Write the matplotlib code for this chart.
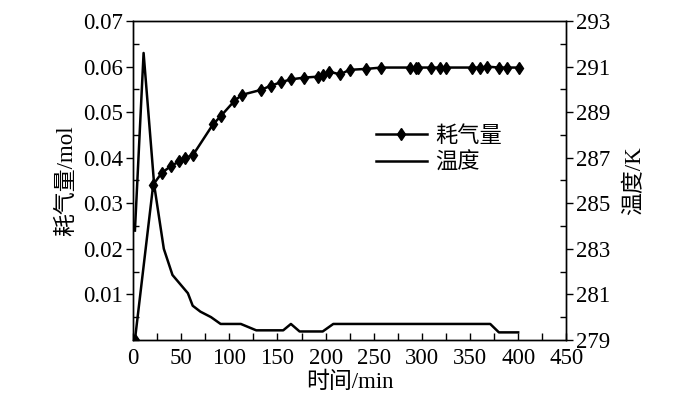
import numpy as np
import matplotlib
matplotlib.use("Agg")
import matplotlib.pyplot as plt
from matplotlib.ticker import MultipleLocator

plt.rcParams['font.family'] = ['Liberation Serif', 'Noto Sans CJK SC']
plt.rcParams['font.size'] = 16.5

# --- data ---
gas_time = [2, 21, 30, 39, 48, 54, 62, 83, 91, 105, 113, 133, 143, 154, 164,
            178, 192, 197, 204, 215, 225, 242, 258, 288, 294, 296, 310, 319,
            325, 352, 360, 368, 380, 388, 401]
gas_mol = [0.0, 0.0341, 0.0367, 0.0381, 0.0392, 0.0400, 0.0405, 0.0473,
           0.0491, 0.0524, 0.0538, 0.0549, 0.0558, 0.0566, 0.0572, 0.0576,
           0.0578, 0.0582, 0.0589, 0.0583, 0.0593, 0.0595, 0.0598, 0.0598,
           0.0598, 0.0598, 0.0598, 0.0598, 0.0598, 0.0598, 0.0598, 0.0600,
           0.0598, 0.0598, 0.0598]

temp_time = [2, 11, 22, 32, 41, 50, 57, 62, 70, 81, 91, 112, 128, 156, 164,
             173, 197, 208, 371, 380, 400]
temp_k = [283.8, 291.6, 285.8, 283.0, 281.85, 281.4, 281.05, 280.5, 280.24,
          280.0, 279.7, 279.7, 279.42, 279.42, 279.7, 279.37, 279.37, 279.7,
          279.7, 279.33, 279.33]

x_ticks = np.arange(0, 451, 50)
left_ticks = [0.01, 0.02, 0.03, 0.04, 0.05, 0.06, 0.07]
right_ticks = [279, 281, 283, 285, 287, 289, 291, 293]

fig = plt.figure(figsize=(7, 3.98), dpi=100)
ax = fig.add_axes([0.19, 0.146, 0.619, 0.801])
ax2 = ax.twinx()

l1, = ax.plot(gas_time, gas_mol, color='black', lw=1.8, marker='d',
              markersize=6.5, label='耗气量')
l2, = ax2.plot(temp_time, temp_k, color='black', lw=1.8, label='温度')

ax.set_xlim(0, 450)
ax.set_ylim(0, 0.07)
ax2.set_ylim(279, 293)

ax.set_xticks(x_ticks)
ax.xaxis.set_minor_locator(MultipleLocator(25))
ax.set_yticks(left_ticks)
ax.set_yticklabels([f"{v:.2f}" for v in left_ticks])
ax.yaxis.set_minor_locator(MultipleLocator(0.005))
ax2.set_yticks(right_ticks)
ax2.yaxis.set_minor_locator(MultipleLocator(1))

# ticks: x all inward, y majors outward, minors inward
ax.tick_params(axis='x', which='both', direction='in', length=5, width=1,
               top=False, pad=6)
ax.tick_params(axis='y', which='major', direction='out', length=5, width=1,
               pad=2)
ax.tick_params(axis='y', which='minor', direction='in', length=4, width=1)
ax2.tick_params(axis='y', which='major', direction='out', length=5, width=1,
                pad=2)
ax2.tick_params(axis='y', which='minor', direction='in', length=4, width=1)
ax2.tick_params(axis='x', which='both', top=False)

for a in (ax, ax2):
    for sp in a.spines.values():
        sp.set_linewidth(1)

ax.set_xlabel("时间/min", labelpad=2)
ax.set_ylabel("耗气量/mol", labelpad=4)
ax2.set_ylabel("温度/K", labelpad=10)

ax.legend([l1, l2], ['耗气量', '温度'], loc='center left',
          bbox_to_anchor=(0.54, 0.596), frameon=False, handlelength=2.3,
          handletextpad=0.35, labelspacing=0.25, borderaxespad=0,
          fontsize=16)

fig.savefig("out.png", dpi=100)
